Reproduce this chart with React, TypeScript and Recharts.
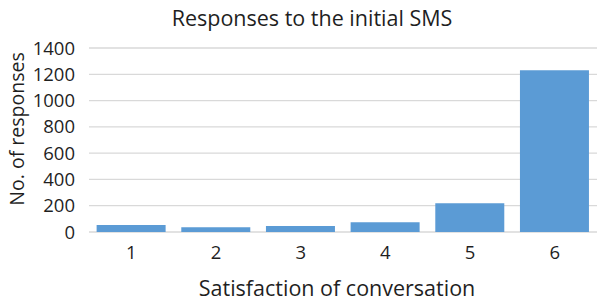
import { Bar, BarChart, CartesianGrid, Label, XAxis, YAxis } from "recharts"

const levels = ["1", "2", "3", "4", "5", "6"]
const responses = [53, 36, 46, 74, 219, 1230]
const yTicks = [0, 200, 400, 600, 800, 1000, 1200, 1400]

const data = levels.map((level, i) => ({ level, responses: responses[i] }))

const font = "'Open Sans', sans-serif"
const textColor = "#1f1f1f"

export default function App() {
  return (
    <div style={{ position: "absolute", left: 0, top: 0, width: 598, height: 303, background: "#fff", fontFamily: font }}>
      <div
        style={{
          position: "absolute",
          left: 0,
          width: 624,
          top: 0,
          textAlign: "center",
          fontSize: 21.5,
          lineHeight: "35px",
          color: textColor,
        }}
      >
        Responses to the initial SMS
      </div>
      <BarChart
        width={598}
        height={303}
        data={data}
        margin={{ top: 48, right: 1, bottom: 0, left: 0 }}
        barCategoryGap="9%"
      >
        <CartesianGrid vertical={false} stroke="#d9d9d9" strokeWidth={1.3} />
        <XAxis
          dataKey="level"
          height={71}
          axisLine={false}
          tickLine={false}
          tickSize={0}
          tickMargin={14}
          tick={{ fill: textColor, fontSize: 18.5, fontFamily: font }}
        >
          <Label
            content={() => (
              <text x={337} y={296} textAnchor="middle" fill={textColor} fontSize={21.5} fontFamily={font}>
                Satisfaction of conversation
              </text>
            )}
          />
        </XAxis>
        <YAxis
          width={89}
          domain={[0, 1400]}
          ticks={yTicks}
          interval={0}
          axisLine={false}
          tickLine={false}
          tickSize={0}
          tickMargin={14}
          tick={{ fill: textColor, fontSize: 18.5, fontFamily: font }}
        >
          <Label
            content={() => (
              <text
                x={24}
                y={129}
                transform="rotate(-90, 24, 129)"
                textAnchor="middle"
                fill={textColor}
                fontSize={19.5}
                fontFamily={font}
              >
                No. of responses
              </text>
            )}
          />
        </YAxis>
        <Bar dataKey="responses" fill="#5b9bd5" isAnimationActive={false} />
      </BarChart>
    </div>
  )
}
